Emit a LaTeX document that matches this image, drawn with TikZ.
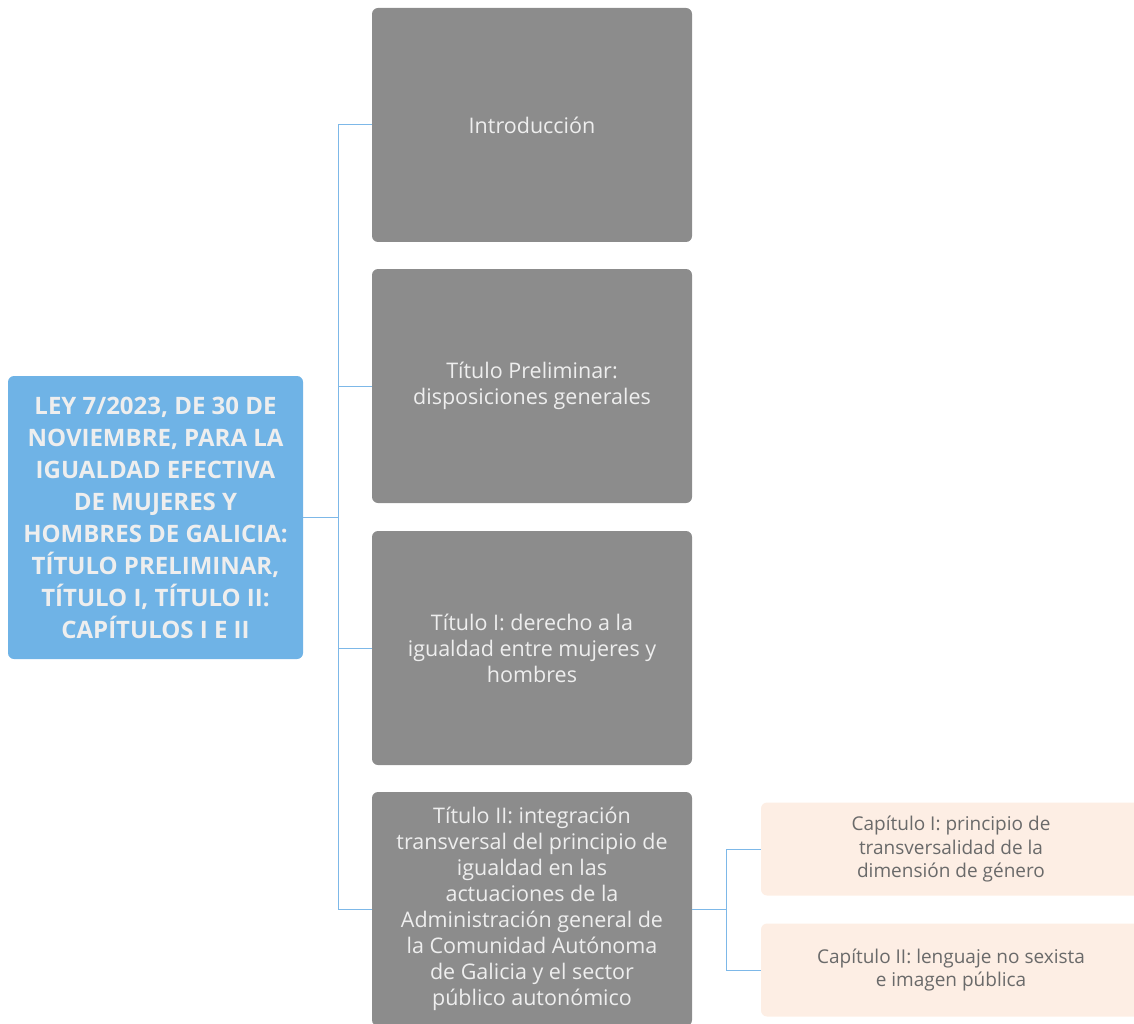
\documentclass[tikz,border=0pt]{standalone}
\usepackage{fontspec}
\setmainfont{Open Sans}
\definecolor{rootblue}{HTML}{6FB3E6}
\definecolor{linkblue}{HTML}{7DB8E8}
\definecolor{boxgray}{HTML}{8C8C8C}
\definecolor{peach}{HTML}{FDEEE4}
\definecolor{lighttext}{HTML}{EEEEEE}
\definecolor{darktext}{HTML}{6A6A6A}
\begin{document}
\begin{tikzpicture}[x=1pt,y=-1pt,
  rootbox/.style={fill=rootblue,rounded corners=6pt,minimum width=295pt,minimum height=283pt,
    text=lighttext,font=\fontsize{24}{32}\selectfont\bfseries,align=center,inner sep=0pt},
  graybox/.style={fill=boxgray,rounded corners=6pt,minimum width=320pt,minimum height=234pt,
    text=lighttext,font=\fontsize{21.5}{26}\selectfont,align=center,inner sep=0pt},
  subbox/.style={fill=peach,rounded corners=6pt,minimum width=380pt,minimum height=93pt,
    text=darktext,font=\fontsize{19}{23.2}\selectfont,align=center,inner sep=0pt},
  link/.style={draw=linkblue,line width=1pt}]
\useasboundingbox (0,0) rectangle (1134,1024);
\begin{scope}
\clip (0,0) rectangle (1134,1024);
\node[rootbox] (root) at (155.5,517.5) {LEY 7/2023, DE 30 DE\\NOVIEMBRE, PARA LA\\IGUALDAD EFECTIVA\\DE MUJERES Y\\HOMBRES DE GALICIA:\\TÍTULO PRELIMINAR,\\TÍTULO I, TÍTULO II:\\CAPÍTULOS I E II};
\node[graybox] (intro) at (532,125) {Introducción};
\node[graybox] (tp) at (532,386) {Título Preliminar:\\disposiciones generales};
\node[graybox] (t1) at (532,648) {Título I: derecho a la\\igualdad entre mujeres y\\hombres};
\node[graybox] (t2) at (532,909) {Título II: integración\\transversal del principio de\\igualdad en las\\actuaciones de la\\Administración general de\\la Comunidad Autónoma\\de Galicia y el sector\\público autonómico};
\node[subbox] (c1) at (951,849) {Capítulo I: principio de\\transversalidad de la\\dimensión de género};
\node[subbox] (c2) at (951,970) {Capítulo II: lenguaje no sexista\\e imagen pública};
\end{scope}
\coordinate (j1) at (338,517.5);
\coordinate (j2) at (726,909);
\draw[link] (root.east) -- (j1);
\draw[link] (j1 |- intro.west) -- (j1 |- t2.west);
\foreach \n in {intro,tp,t1,t2} \draw[link] (j1 |- \n.west) -- (\n.west);
\draw[link] (t2.east) -- (j2);
\draw[link] (j2 |- c1.west) -- (j2 |- c2.west);
\foreach \n in {c1,c2} \draw[link] (j2 |- \n.west) -- (\n.west);
\end{tikzpicture}
\end{document}
